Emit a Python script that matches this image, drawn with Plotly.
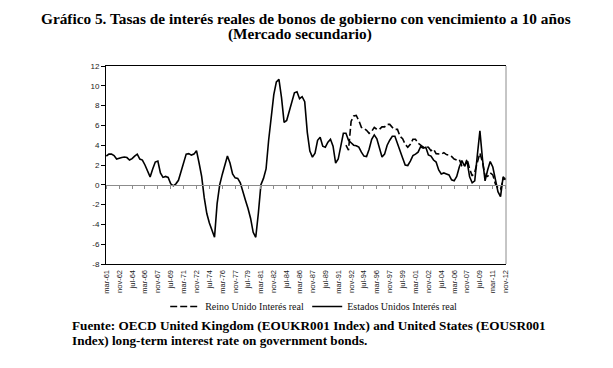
import plotly.graph_objects as go

# ---- data ----
tick_labels = ["mar-61", "nov-62", "jul-64", "mar-66", "nov-67", "jul-69", "mar-71", "nov-72",
               "jul-74", "mar-76", "nov-77", "jul-79", "mar-81", "nov-82", "jul-84", "mar-86",
               "nov-87", "jul-89", "mar-91", "nov-92", "jul-94", "mar-96", "nov-97", "jul-99",
               "mar-01", "nov-02", "jul-04", "mar-06", "nov-07", "jul-09", "mar-11", "nov-12"]
label_step = 20          # months between labels
n_months = 621           # mar-61 .. nov-12

us_start, us_step = 0, 4   # month index from mar-61
us_values = [
    2.9, 3.1, 3.1, 2.95, 2.6, 2.7, 2.75, 2.8, 2.75, 2.5, 2.65, 2.9, 3.1, 2.6, 2.5, 2.0,
    1.35, 0.8, 1.6, 2.3, 2.4, 1.2, 0.75, 0.85, 0.75, 0.1,
    -0.1, 0.1, 0.45, 1.3, 2.1, 3.1, 3.15, 3.0, 3.1, 3.45, 2.2, 0.85, -1.3, -2.9, -3.85,
    -4.7, -5.3, -1.9, 0.0, 1.05, 2.1, 2.9, 2.2, 1.1, 0.7,
    0.65, 0.2, -0.8, -1.55, -2.4, -3.4, -4.8, -5.3, -2.9, 0.0, 0.65, 1.6, 4.5, 7.0, 9.1,
    10.4, 10.65, 8.8, 6.3, 6.5, 7.4, 8.3, 9.3, 9.4, 8.7,
    8.9, 8.4, 5.3, 3.4, 2.8, 3.2, 4.5, 4.8, 3.9, 3.8, 4.3, 4.6, 3.9, 2.2, 2.6, 4.0,
    5.2, 5.2, 4.5, 4.25, 4.0, 3.95, 3.8, 3.3, 2.9,
    2.85, 3.6, 4.6, 5.04, 4.65, 3.6, 2.8, 3.1, 4.0, 4.5, 4.9, 4.9, 4.1, 3.36, 2.7, 2.0,
    1.95, 2.4, 2.95, 3.1, 3.3, 3.85, 3.7, 3.8, 3.02,
    2.9, 2.5, 2.3, 1.5, 1.1, 1.2, 1.1, 1.0, 0.5, 0.4, 0.84, 1.8, 2.45, 1.9, 2.4, 0.8,
    0.2, 0.4, 3.0, 5.45, 2.6, 0.4, 1.5, 2.35, 1.8,
    0.55, -0.7, -1.2, 0.8, 0.5,
]

uk_start, uk_step = 372, 4
uk_values = [
    4.0, 3.5, 6.4, 6.95, 7.0, 6.5, 5.8, 5.7,
    5.5, 5.2, 5.4, 5.8, 5.6, 5.6, 5.85, 5.85, 6.1, 6.1, 5.8, 5.6, 5.6, 4.9, 4.65, 4.1,
    3.8, 4.1, 4.6, 4.6, 4.2, 3.95, 3.8, 3.85, 3.8,
    3.45, 3.6, 3.15, 3.15, 3.1, 3.25, 3.05, 3.0, 2.86, 2.6, 2.5, 2.55, 1.9, 1.8, 2.6,
    1.6, 0.9, 1.3, 2.3, 3.2, 2.3, 0.9, 0.85, 1.2, 1.0,
    0.1, -0.3, -0.45, 0.5, 0.67,
]

y_ticks = [12, 10, 8, 6, 4, 2, 0, -2, -4, -6, -8]

title_line1 = "Gráfico 5. Tasas de interés reales de bonos de gobierno con vencimiento a 10 años"
title_line2 = "(Mercado secundario)"
source_line1 = "Fuente: OECD United Kingdom (EOUKR001 Index) and United States (EOUSR001"
source_line2 = "Index) long-term interest rate on government bonds."

# ---- figure ----
us_x = [us_start + us_step * k for k in range(len(us_values))]
uk_x = [uk_start + uk_step * k for k in range(len(uk_values))]
tick_vals = [label_step * k for k in range(len(tick_labels))]

fig = go.Figure()
fig.add_trace(go.Scatter(x=uk_x, y=uk_values, mode="lines", name="Reino Unido Interés real",
                         line=dict(color="black", width=1.6, dash="7px,3px"), legend="legend"))
fig.add_trace(go.Scatter(x=us_x, y=us_values, mode="lines", name="Estados Unidos Interés real",
                         line=dict(color="black", width=1.6), legend="legend2"))
# invisible helper trace for the zero-crossing category axis
fig.add_trace(go.Scatter(x=[0, n_months - 1], y=[0, 0], xaxis="x2", mode="lines",
                         line=dict(width=0), showlegend=False, hoverinfo="skip"))

axis_font = dict(family="Liberation Sans, Arial, sans-serif", size=8, color="#222")
xlab_font = dict(family="Liberation Sans, Arial, sans-serif", size=7.5, color="#222")
legend_font = dict(family="Liberation Serif, Times New Roman, serif", size=10, color="#111")
yr = (min(y_ticks), max(y_ticks))

fig.update_layout(
    width=613, height=368,
    margin=dict(l=106, r=107, t=66, b=104),
    paper_bgcolor="white", plot_bgcolor="white",
    showlegend=True,
    legend=dict(orientation="h", x=0.148, xanchor="left", y=-0.215, yanchor="middle",
                font=legend_font, bgcolor="rgba(0,0,0,0)"),
    legend2=dict(orientation="h", x=0.503, xanchor="left", y=-0.215, yanchor="middle",
                 font=legend_font, bgcolor="rgba(0,0,0,0)"),
    xaxis=dict(range=[-0.5, n_months - 0.5], tickmode="array", tickvals=tick_vals,
               ticktext=tick_labels, tickangle=-90, ticks="", tickfont=xlab_font,
               showgrid=False, zeroline=False, showline=True, linecolor="black",
               linewidth=1, mirror=True, ticklabelstandoff=2, automargin=False),
    xaxis2=dict(range=[-0.5, n_months - 0.5], overlaying="x", anchor="free",
                position=(0 - yr[0]) / (yr[1] - yr[0]), side="bottom",
                tickmode="array", tickvals=tick_vals, showticklabels=False,
                ticks="outside", ticklen=3, tickcolor="#8c8c8c", tickwidth=1,
                showline=True, linecolor="#8c8c8c", linewidth=1, showgrid=False,
                zeroline=False, automargin=False),
    yaxis=dict(range=[yr[0], yr[1]], tickmode="array", tickvals=y_ticks,
               ticktext=[str(v) for v in y_ticks], ticks="outside", ticklen=4,
               tickcolor="black", tickfont=axis_font, showgrid=False, zeroline=False,
               showline=True, linecolor="black", linewidth=1, mirror=False, automargin=False),
)

# right border of the plot area (gray)
fig.add_shape(type="line", xref="paper", yref="paper", x0=1, x1=1, y0=0, y1=1,
              line=dict(color="#8c8c8c", width=1))

serif = "Liberation Serif, Times New Roman, serif"
fig.add_annotation(text="<b>" + title_line1 + "</b>", xref="paper", yref="paper",
                   x=0.5, y=(264 - 18) / 198, xanchor="center", yanchor="middle",
                   showarrow=False, font=dict(family=serif, size=15.3, color="black"))
fig.add_annotation(text="<b>" + title_line2 + "</b>", xref="paper", yref="paper",
                   x=0.485, y=(264 - 34.5) / 198, xanchor="center", yanchor="middle",
                   showarrow=False, font=dict(family=serif, size=15.3, color="black"))
fig.add_annotation(text="<b>" + source_line1 + "</b>", xref="paper", yref="paper",
                   x=(70 - 106) / 400, y=(264 - 325) / 198, xanchor="left", yanchor="middle",
                   showarrow=False, font=dict(family=serif, size=13.2, color="black"))
fig.add_annotation(text="<b>" + source_line2 + "</b>", xref="paper", yref="paper",
                   x=(70 - 106) / 400, y=(264 - 340) / 198, xanchor="left", yanchor="middle",
                   showarrow=False, font=dict(family=serif, size=13.2, color="black"))

fig.write_html("out.html", config={"displayModeBar": False},
               post_script="document.body.style.margin='0';")
